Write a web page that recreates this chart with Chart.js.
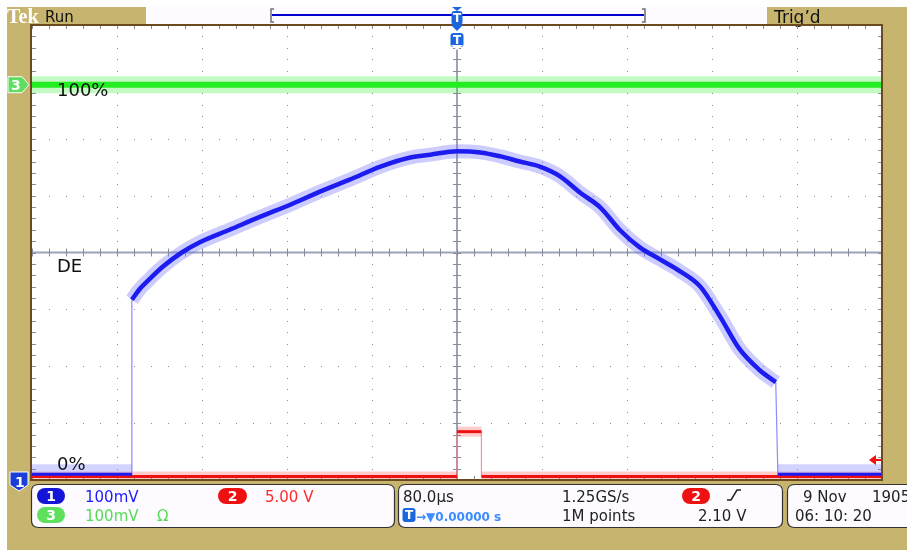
<!DOCTYPE html>
<html>
<head>
<meta charset="utf-8">
<script src="https://cdn.jsdelivr.net/npm/chart.js@4.4.1/dist/chart.umd.min.js"></script>
<style>
  html,body{margin:0;padding:0;background:#fff;}
  canvas{display:block;}
</style>
</head>
<body>
<canvas id="scope" width="907" height="550"></canvas>
<script>
/* TDS-style capture: CH1 envelope, CH2 gate pulse, CH3 100% reference */
// x in microseconds (80 us/div, trigger at 0), y in divisions (-4..4)
const ch1CurveTime = [-306,-298,-289,-277,-259,-242,-214,-185,-157,-129,-101,-72,-44,-25,0,22,41,59,78,97,116,135,153,172,191,210,229,248,266,285,300];
const ch1CurveDiv  = [-0.83,-0.63,-0.46,-0.25,0.00,0.18,0.40,0.63,0.84,1.07,1.28,1.51,1.67,1.72,1.78,1.76,1.69,1.60,1.51,1.34,1.05,0.79,0.40,0.09,-0.12,-0.33,-0.60,-1.14,-1.70,-2.07,-2.28];
const ch1BaseLeft  = [-400,-306];
const ch1BaseRight = [302,400];
const ch1BaseDiv   = -3.90;
const ch2Time = [-400,0,0,23,23,400];
const ch2Div  = [-3.94,-3.94,-3.15,-3.15,-3.94,-3.94];
const ch3Time = [-400,400];
const ch3Div  = [2.95,2.95];
const xDivs = [-400,-320,-240,-160,-80,0,80,160,240,320,400];
const yDivs = [-4,-3,-2,-1,0,1,2,3,4];

const TAN = "#c7b56f", EDGE = "#6b4a20";
const pts = (xs,ys)=>xs.map((x,i)=>({x, y:ys[i]}));
const ch1Path = [{x:-400,y:ch1BaseDiv},{x:-306,y:ch1BaseDiv}]
  .concat(pts(ch1CurveTime,ch1CurveDiv))
  .concat([{x:302,y:ch1BaseDiv},{x:400,y:ch1BaseDiv}]);
const noVert = c => c.p0.parsed.x===c.p1.parsed.x ? "rgba(0,0,0,0)" : undefined;

function line(data,color,width,order,extra){
  return Object.assign({data,borderColor:color,borderWidth:width,pointRadius:0,fill:false,order,tension:0},extra||{});
}

function pill(ctx,x,y,w,h,fill,txt){
  const r=h/2;
  ctx.fillStyle=fill; ctx.beginPath();
  ctx.moveTo(x+r,y); ctx.lineTo(x+w-r,y); ctx.arc(x+w-r,y+r,r,-Math.PI/2,Math.PI/2);
  ctx.lineTo(x+r,y+h); ctx.arc(x+r,y+r,r,Math.PI/2,Math.PI*1.5); ctx.fill();
  ctx.fillStyle="#fff"; ctx.font="bold 14px 'DejaVu Sans'"; ctx.textAlign="center"; ctx.textBaseline="middle";
  ctx.fillText(txt,x+w/2,y+h/2+1); ctx.textAlign="left"; ctx.textBaseline="alphabetic";
}
function rbox(ctx,x,y,w,h,r){
  ctx.beginPath(); ctx.moveTo(x+r,y); ctx.lineTo(x+w-r,y); ctx.quadraticCurveTo(x+w,y,x+w,y+r);
  ctx.lineTo(x+w,y+h-r); ctx.quadraticCurveTo(x+w,y+h,x+w-r,y+h); ctx.lineTo(x+r,y+h);
  ctx.quadraticCurveTo(x,y+h,x,y+h-r); ctx.lineTo(x,y+r); ctx.quadraticCurveTo(x,y,x+r,y); ctx.closePath();
}
function tMark(ctx,cx,y,w,h){
  ctx.fillStyle="#1a66e0"; rbox(ctx,cx-w/2,y,w,h,3); ctx.fill();
  ctx.fillStyle="#fff"; ctx.font="bold "+(h-2)+"px 'DejaVu Sans'"; ctx.textAlign="center"; ctx.textBaseline="middle";
  ctx.fillText("T",cx,y+h/2+1); ctx.textAlign="left"; ctx.textBaseline="alphabetic";
}

const frame = {
  id:"frame",
  beforeDraw(chart){
    const ctx=chart.ctx, a=chart.chartArea;
    ctx.save();
    ctx.fillStyle="#fff"; ctx.fillRect(0,0,907,550);
    ctx.fillStyle=TAN; ctx.fillRect(7,7,900,543);
    ctx.fillStyle="#fff"; ctx.fillRect(a.left-1,a.top,a.right-a.left+1,a.bottom-a.top);
    // header
    ctx.fillStyle="#fdfbff"; ctx.fillRect(146,7,621,17);
    ctx.strokeStyle="#0000cc"; ctx.lineWidth=2; ctx.beginPath(); ctx.moveTo(272,15); ctx.lineTo(644,15); ctx.stroke();
    ctx.strokeStyle="#707070"; ctx.lineWidth=1.5; ctx.beginPath();
    ctx.moveTo(274,9); ctx.lineTo(271,9); ctx.lineTo(271,22); ctx.lineTo(274,22);
    ctx.moveTo(642,9); ctx.lineTo(645,9); ctx.lineTo(645,22); ctx.lineTo(642,22); ctx.stroke();
    ctx.fillStyle="#fff"; ctx.font="bold 20px 'Liberation Serif'"; ctx.fillText("Tek",7,23);
    ctx.fillStyle="#111"; ctx.font="15px 'DejaVu Sans'"; ctx.fillText("Run",45,22);
    ctx.font="17px 'DejaVu Sans'"; ctx.fillText("Trig\u2019d",774,23);
    ctx.restore();
  },
  beforeDatasetsDraw(chart){
    const ctx=chart.ctx, a=chart.chartArea, xs=chart.scales.x, ys=chart.scales.y;
    const dx=(xs.getPixelForValue(80)-xs.getPixelForValue(0))/5;
    const dy=(ys.getPixelForValue(0)-ys.getPixelForValue(1))/5;
    const cx=xs.getPixelForValue(0), cy=ys.getPixelForValue(0);
    ctx.save();
    ctx.fillStyle="#8c8c8c";
    xDivs.slice(1,-1).forEach(v=>{ if(v===0) return; const x=Math.round(xs.getPixelForValue(v));
      for(let y=a.top; y<=a.bottom; y+=dy) ctx.fillRect(x,Math.round(y),1,1); });
    yDivs.slice(1,-1).forEach(v=>{ if(v===0) return; const y=Math.round(ys.getPixelForValue(v));
      for(let x=a.left; x<=a.right; x+=dx) ctx.fillRect(Math.round(x),y,1,1); });
    // crosshair
    ctx.strokeStyle="#9ca4b8"; ctx.lineWidth=2; ctx.beginPath();
    ctx.moveTo(a.left,cy); ctx.lineTo(a.right,cy); ctx.moveTo(cx,48); ctx.lineTo(cx,a.bottom); ctx.stroke();
    ctx.strokeStyle="#8a8a9a"; ctx.lineWidth=1; ctx.beginPath();
    for(let x=a.left; x<=a.right+0.5; x+=dx){ const X=Math.round(x)+0.5;
      ctx.moveTo(X,cy-4); ctx.lineTo(X,cy+4); ctx.moveTo(X,a.top); ctx.lineTo(X,a.top+4); ctx.moveTo(X,a.bottom); ctx.lineTo(X,a.bottom-4); }
    for(let y=a.top; y<=a.bottom+0.5; y+=dy){ const Y=Math.round(y)+0.5;
      ctx.moveTo(cx-4,Y); ctx.lineTo(cx+4,Y); ctx.moveTo(a.left,Y); ctx.lineTo(a.left+4,Y); ctx.moveTo(a.right,Y); ctx.lineTo(a.right-4,Y); }
    ctx.stroke();
    ctx.restore();
  },
  afterDatasetsDraw(chart){
    const ctx=chart.ctx, a=chart.chartArea, ys=chart.scales.y;
    ctx.save();
    ctx.strokeStyle=EDGE; ctx.lineWidth=2;
    ctx.strokeRect(a.left-1,a.top,a.right-a.left+1,a.bottom-a.top);
    // reference labels
    ctx.fillStyle="#111"; ctx.font="18px 'DejaVu Sans'";
    ctx.fillText("100%",57,96); ctx.fillText("DE",57,272); ctx.fillText("0%",57,470);
    // channel 3 marker
    const g=ys.getPixelForValue(ch3Div[0]);
    ctx.fillStyle="#5ede5e"; ctx.strokeStyle="#fff"; ctx.lineWidth=1;
    ctx.beginPath(); ctx.moveTo(8,g-8); ctx.lineTo(22,g-8); ctx.lineTo(29,g); ctx.lineTo(22,g+8); ctx.lineTo(8,g+8); ctx.closePath(); ctx.fill(); ctx.stroke();
    ctx.fillStyle="#fff"; ctx.font="bold 14px 'DejaVu Sans'"; ctx.fillText("3",11,g+5);
    // channel 1 marker
    ctx.fillStyle="#1a3fd8"; ctx.strokeStyle="#fff";
    ctx.beginPath(); ctx.moveTo(10,472); ctx.lineTo(28,472); ctx.lineTo(28,485); ctx.lineTo(19,491); ctx.lineTo(10,485); ctx.closePath(); ctx.fill(); ctx.stroke();
    ctx.fillStyle="#fff"; ctx.fillText("1",15,487);
    // trigger level arrow
    ctx.strokeStyle="#ee1111"; ctx.fillStyle="#ee1111"; ctx.lineWidth=2;
    ctx.beginPath(); ctx.moveTo(875,460); ctx.lineTo(882,460); ctx.stroke();
    ctx.beginPath(); ctx.moveTo(869,460); ctx.lineTo(876,455); ctx.lineTo(876,465); ctx.closePath(); ctx.fill();
    // trigger position markers
    ctx.fillStyle="#1a66e0";
    ctx.beginPath(); ctx.moveTo(452,7); ctx.lineTo(462,7); ctx.lineTo(457,11); ctx.closePath(); ctx.fill();
    tMark(ctx,457,11,11,14);
    ctx.fillStyle="#1a66e0"; ctx.beginPath(); ctx.moveTo(451,25); ctx.lineTo(463,25); ctx.lineTo(457,31); ctx.closePath(); ctx.fill();
    tMark(ctx,457,33,13,14);
    ctx.beginPath(); ctx.moveTo(451,45); ctx.lineTo(463,45); ctx.lineTo(457,50); ctx.closePath(); ctx.fill();
    // readout boxes
    ctx.fillStyle="#fdfbff"; ctx.strokeStyle="#333"; ctx.lineWidth=1.2;
    [[31,484,363,43],[398,484,384,43],[787,484,130,43]].forEach(b=>{ rbox(ctx,b[0]+0.5,b[1]+0.5,b[2],b[3],7); ctx.fill(); ctx.stroke(); ctx.fillStyle="#fdfbff"; });
    pill(ctx,37,488,28,16,"#1414d8","1");
    pill(ctx,37,507,28,16,"#5ee05e","3");
    pill(ctx,218,488,29,16,"#ee1111","2");
    pill(ctx,682,488,28,16,"#ee1111","2");
    ctx.font="15px 'DejaVu Sans'";
    ctx.fillStyle="#1a1aff"; ctx.fillText("100mV",85,502);
    ctx.fillStyle="#ff2a2a"; ctx.fillText("5.00 V",265,502);
    ctx.fillStyle="#55dd55"; ctx.fillText("100mV",85,521); ctx.fillText("\u03A9",157,521);
    ctx.fillStyle="#222";
    ctx.fillText("80.0\u00B5s",403,502); ctx.fillText("1.25GS/s",562,502);
    ctx.fillText("1M points",562,521); ctx.fillText("2.10 V",698,521);
    ctx.fillText("9 Nov",803,502); ctx.fillText("1905",872,502); ctx.fillText("06: 10: 20",795,521);
    ctx.strokeStyle="#222"; ctx.lineWidth=1.5; ctx.beginPath();
    ctx.moveTo(727,500); ctx.lineTo(731,500); ctx.lineTo(737,490); ctx.lineTo(741,490); ctx.stroke();
    tMark(ctx,409,508,13,14);
    ctx.fillStyle="#3a8cff"; ctx.fillText("\u2192\u25BC0.00000 s",416,521);
    ctx.restore();
  }
};

new Chart(document.getElementById("scope"),{
  type:"line",
  data:{datasets:[
    line(pts(ch1CurveTime,ch1CurveDiv),"#1c1cf0",4.5,1,{cubicInterpolationMode:"monotone"}),
    line(pts(ch1CurveTime,ch1CurveDiv),"rgba(110,110,255,0.35)",14,2,{cubicInterpolationMode:"monotone"}),
    line(pts(ch1BaseLeft,[ch1BaseDiv,ch1BaseDiv]),"#1c1cf0",3,3),
    line(pts(ch1BaseRight,[ch1BaseDiv,ch1BaseDiv]),"#1c1cf0",3,3),
    line(pts(ch1BaseLeft,[ch1BaseDiv+0.1,ch1BaseDiv+0.1]),"rgba(110,110,255,0.3)",9,4),
    line(pts(ch1BaseRight,[ch1BaseDiv+0.1,ch1BaseDiv+0.1]),"rgba(110,110,255,0.3)",9,4),
    line(ch1Path,"rgba(110,110,255,0.8)",1.2,5),
    line(pts(ch2Time,ch2Div),"#ee1111",3,6,{segment:{borderColor:noVert}}),
    line(pts(ch2Time,ch2Div),"rgba(255,70,70,0.28)",10,7,{segment:{borderColor:noVert}}),
    line(pts(ch2Time,ch2Div),"rgba(255,120,120,0.8)",1.2,8),
    line(pts(ch3Time,ch3Div),"#22ee22",6,9),
    line(pts(ch3Time,ch3Div),"rgba(60,235,60,0.3)",17,10)
  ]},
  options:{
    responsive:false, animation:false, events:[],
    layout:{padding:{left:32,right:25,top:25,bottom:70}},
    plugins:{legend:{display:false},tooltip:{enabled:false}},
    scales:{
      x:{type:"linear",min:-400,max:400,display:false},
      y:{min:-4,max:4,display:false}
    }
  },
  plugins:[frame]
});
</script>
</body>
</html>
